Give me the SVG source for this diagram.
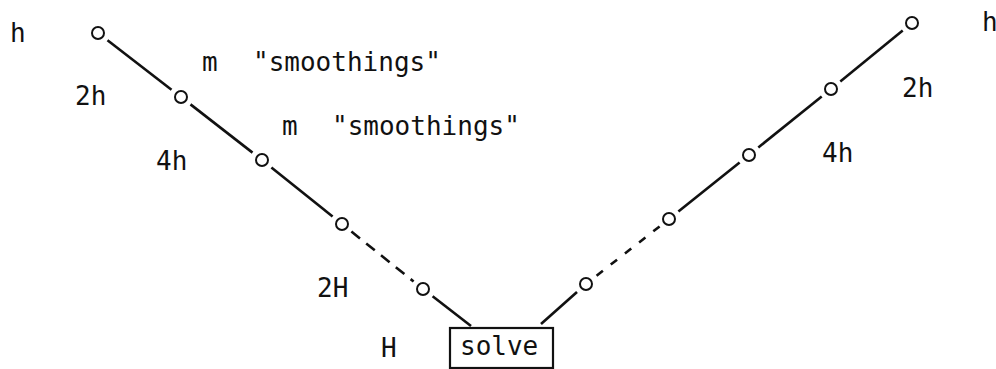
<svg xmlns="http://www.w3.org/2000/svg" width="996" height="369" viewBox="0 0 996 369">
<style>
.t{font-family:"DejaVu Sans Mono","Liberation Mono",monospace;font-size:26px;fill:#111}
.pt{fill:#fff;stroke:#111;stroke-width:2}
.ln{stroke:#111;stroke-width:2.6;fill:none;stroke-linecap:butt}
.dl{stroke-dasharray:11 8}
.dr{stroke-dasharray:8 10}
.box{fill:#fff;stroke:#111;stroke-width:2.2}
</style>
<rect width="996" height="369" fill="#fff"/>
<g id="connectors">
<line class="ln" x1="107.5" y1="40.3" x2="171.5" y2="89.7"/>
<line class="ln" x1="190.5" y1="104.4" x2="252.5" y2="152.6"/>
<line class="ln" x1="271.4" y1="167.5" x2="332.6" y2="216.5"/>
<line class="ln dl" x1="351.4" y1="231.5" x2="413.6" y2="281.5"/>
<line class="ln" x1="432.6" y1="296.2" x2="471" y2="326"/>
<line class="ln" x1="902.7" y1="30.6" x2="840.3" y2="81.4"/>
<line class="ln" x1="821.7" y1="96.5" x2="758.3" y2="147.5"/>
<line class="ln" x1="739.6" y1="162.5" x2="678.4" y2="211.5"/>
<line class="ln dr" x1="659.6" y1="226.4" x2="595.4" y2="276.6"/>
<line class="ln" x1="577" y1="292" x2="541" y2="324"/>
</g>
<g id="left-h"><circle class="pt" cx="98" cy="33" r="6"/><text class="t" x="10" y="42">h</text></g>
<g id="left-2h"><circle class="pt" cx="181" cy="97" r="6"/><text class="t" x="75" y="105">2h</text></g>
<g id="left-4h"><circle class="pt" cx="262" cy="160" r="6"/><text class="t" x="156" y="170">4h</text></g>
<g id="left-mid"><circle class="pt" cx="342" cy="224" r="6"/></g>
<g id="left-2H"><circle class="pt" cx="423" cy="289" r="6"/><text class="t" x="317" y="297">2H</text></g>
<g id="label-H"><text class="t" x="381" y="357">H</text></g>
<g id="smooth1"><text class="t" x="202" y="71">m</text><text class="t" x="253" y="71">"smoothings"</text></g>
<g id="smooth2"><text class="t" x="282" y="135">m</text><text class="t" x="332" y="135">"smoothings"</text></g>
<g id="solve"><rect class="box" x="450" y="328" width="103" height="40"/><text class="t" x="460" y="355">solve</text></g>
<g id="right-h"><circle class="pt" cx="912" cy="23" r="6"/><text class="t" x="982" y="31">h</text></g>
<g id="right-2h"><circle class="pt" cx="831" cy="89" r="6"/><text class="t" x="902" y="97">2h</text></g>
<g id="right-4h"><circle class="pt" cx="749" cy="155" r="6"/><text class="t" x="822" y="162">4h</text></g>
<g id="right-mid"><circle class="pt" cx="669" cy="219" r="6"/></g>
<g id="right-2H"><circle class="pt" cx="586" cy="284" r="6"/></g>
</svg>
